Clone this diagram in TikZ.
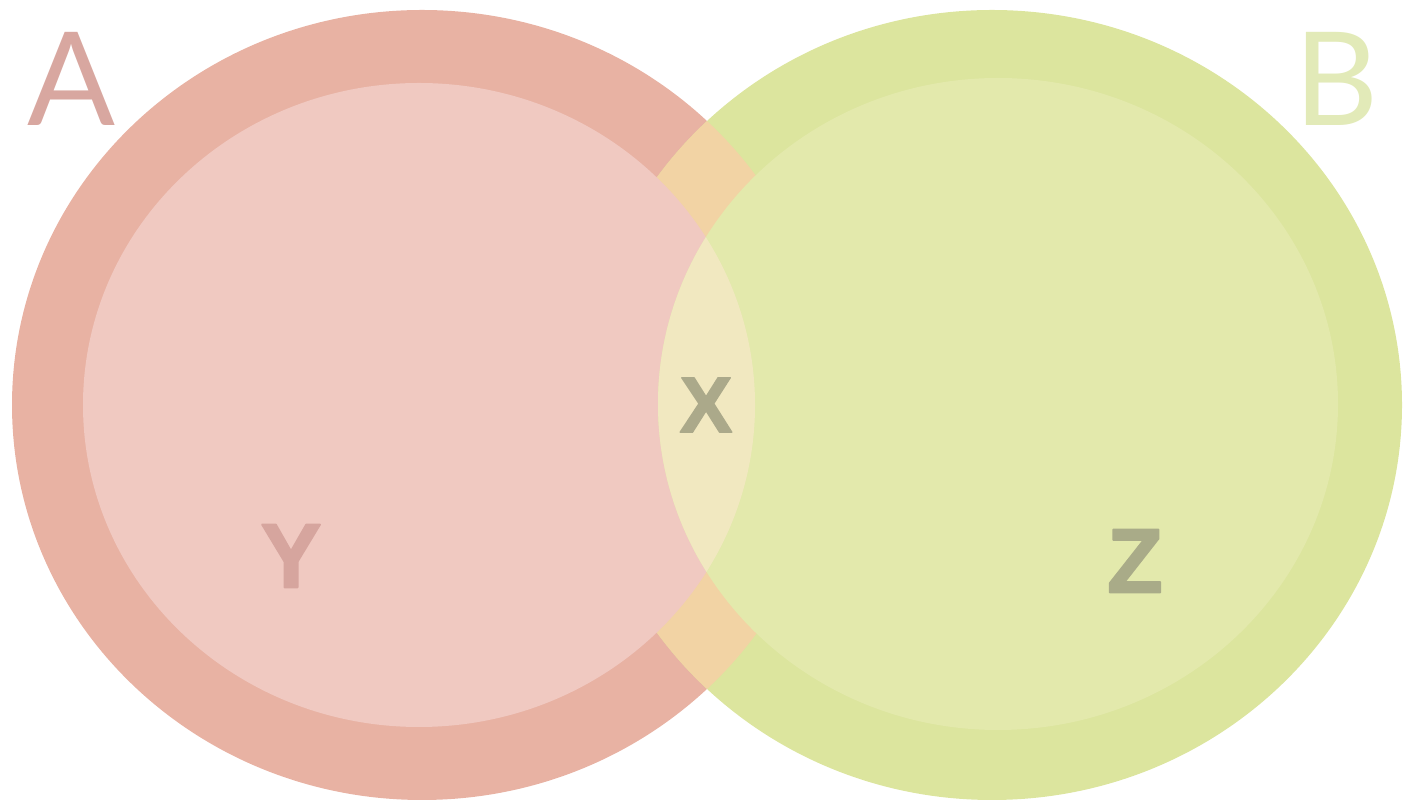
\documentclass[tikz,border=0pt]{standalone}
\usepackage{fontspec}
\usepackage{tikz}
\usetikzlibrary{positioning}
\newfontfamily\vennfont{Lato}
\newfontfamily\partfont[FakeBold=2]{Liberation Sans Bold}
\definecolor{ringA}{HTML}{E8B2A3}
\definecolor{discA}{HTML}{F0C9C1}
\definecolor{ringB}{HTML}{DCE59E}
\definecolor{discB}{HTML}{E3E9AC}
\definecolor{ringmix}{HTML}{F2D3A4}
\definecolor{discmix}{HTML}{F1E8C0}
\definecolor{inkA}{HTML}{D8A7A0}
\definecolor{inkB}{HTML}{E2EAB8}
\definecolor{inkmix}{HTML}{ABA98A}
\definecolor{inkY}{HTML}{D6A59E}
\definecolor{inkZ}{HTML}{A9AB88}
\tikzset{
    every picture/.style={line cap=round,line join=round},
    outerset/.style={x radius=410,y radius=395},
    innerA/.style={x radius=336,y radius=322},
    innerB/.style={x radius=340,y radius=326},
    setname/.style={inner sep=0pt,font=\vennfont\fontsize{74}{74}\selectfont},
    partname/.style={inner sep=0pt,font=\partfont\fontsize{52}{52}\selectfont}
}
\begin{document}
\begin{tikzpicture}[x=0.2mm,y=0.2mm]
  \useasboundingbox (0,0) rectangle (1405,801);
  \coordinate (ca) at (422,396);
  \coordinate (cb) at (992,396);
  \coordinate (ia) at (419,396);
  \coordinate (ib) at (998,397);
  \fill[ringA] (ca) ellipse[outerset];
  \fill[ringB] (cb) ellipse[outerset];
  \begin{scope}
    \clip (ca) ellipse[outerset];
    \fill[ringmix] (cb) ellipse[outerset];
  \end{scope}
  \fill[discA] (ia) ellipse[innerA];
  \fill[discB] (ib) ellipse[innerB];
  \begin{scope}
    \clip (ia) ellipse[innerA];
    \fill[discmix] (ib) ellipse[innerB];
  \end{scope}
  \node[setname,text=inkA] (setA) at (72,722) {A};
  \node[setname,text=inkB] (setB) at (1337,722) {B};
  \node[partname,text=inkmix,font=\partfont\fontsize{45}{45}\selectfont] (partX) at (706,396) {X};
  \node[partname,text=inkY] (partY) at (291,245) {Y};
  \node[partname,text=inkZ] (partZ) at (1135,240) {Z};
\end{tikzpicture}
\end{document}
